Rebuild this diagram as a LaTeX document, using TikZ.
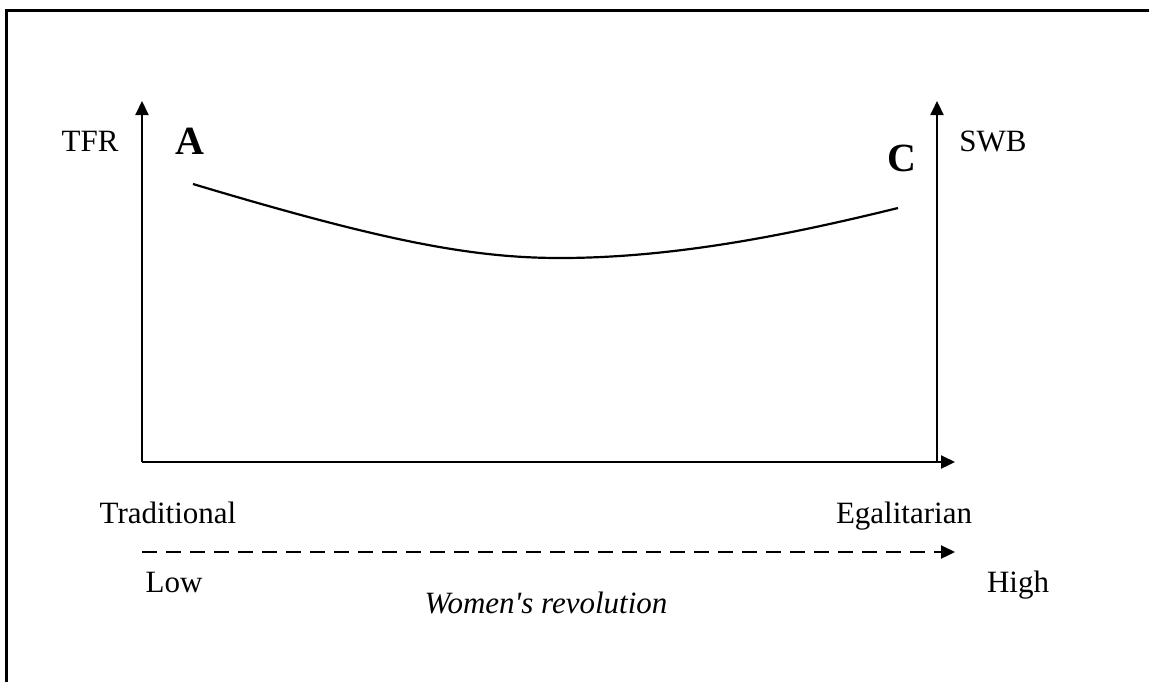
\documentclass[tikz,border=0pt]{standalone}
\usepackage{fontspec}
\setmainfont{Liberation Serif}
\usepackage{tikz}
\usetikzlibrary{arrows.meta, positioning, calc}

\begin{document}
\begin{tikzpicture}[
    x=0.5pt, y=-0.5pt,
    frame/.style={line width=1.5pt},
    axis/.style={-{Triangle[length=7pt, width=6.5pt]}, line width=1.1pt},
    trend/.style={-{Triangle[length=7pt, width=6.5pt]}, line width=1.1pt, dash pattern=on 7.5pt off 4.5pt},
    curve/.style={line width=1.1pt},
    lbl/.style={anchor=base, inner sep=0pt, font=\fontsize{15.5}{18}\selectfont},
    point/.style={anchor=base, inner sep=0pt, font=\fontsize{20}{24}\selectfont\bfseries},
]
\useasboundingbox (0,0) rectangle (1149,682);

% Frame
\draw[frame] (6,682) -- (6,10) -- (1149,10);

% Axes
\coordinate (origin) at (142,462);
\coordinate (tfrtop) at (142,101);
\coordinate (xend) at (955,462);
\coordinate (swbbase) at (937,462);
\coordinate (swbtop) at (937,101);
\draw[axis] (origin) -- (tfrtop);
\draw[axis] (origin) -- (xend);
\draw[axis] (swbbase) -- (swbtop);

% Women's revolution line
\coordinate (low) at (142,552);
\coordinate (high) at (955,552);
\draw[trend] (low) -- (high);

% Curve from A to C
\coordinate (ptA) at (193,184);
\coordinate (ptMin) at (560,258);
\coordinate (ptC) at (898,208);
\draw[curve] (ptA) .. controls (380,240) and (470,258) .. (ptMin)
    .. controls (680,258) and (800,232) .. (ptC);

% Labels
\node[lbl] (tfr) at (90,151) {TFR};
\node[lbl] (swb) at (993,151) {SWB};
\node[point] (labA) at (190,154) {A};
\node[point] (labC) at (902,171) {C};
\node[lbl] (trad) at (168,523) {Traditional};
\node[lbl] (egal) at (904,523) {Egalitarian};
\node[lbl] (lowlbl) at (174,592) {Low};
\node[lbl] (highlbl) at (1018,592) {High};
\node[lbl, font=\fontsize{15.5}{18}\selectfont\itshape] (rev) at (546,613) {Women\textquotesingle s revolution};

\end{tikzpicture}
\end{document}
